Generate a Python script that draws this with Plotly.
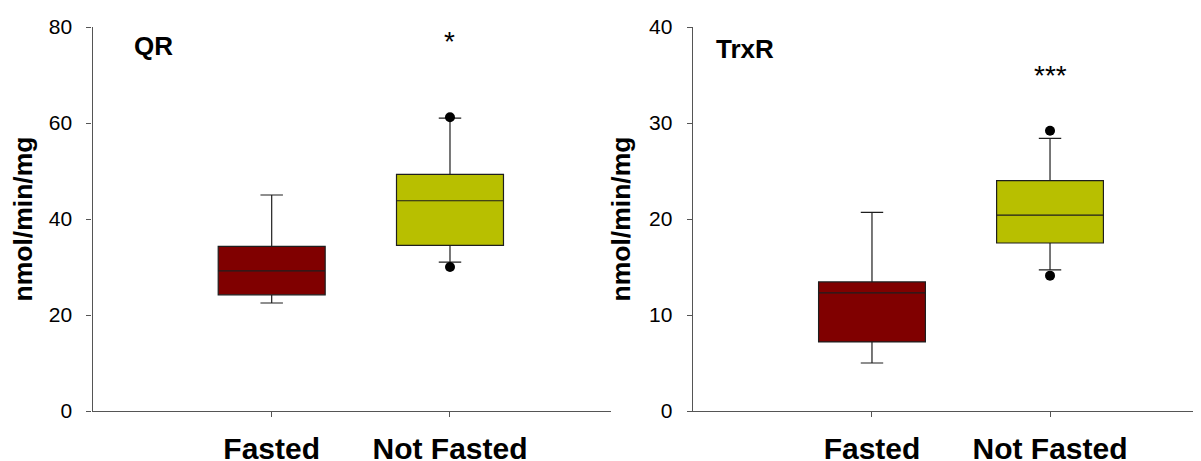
import plotly.graph_objects as go
from plotly.subplots import make_subplots

categories = ["Fasted", "Not Fasted"]
fill_colors = ["#800000", "#b8bf00"]

# QR panel stats
qr_lower = [22.5, 31.0]
qr_q1 = [24.2, 34.5]
qr_median = [29.2, 43.8]
qr_q3 = [34.3, 49.3]
qr_upper = [45.0, 61.0]
qr_out_x = ["Not Fasted", "Not Fasted"]
qr_out_y = [61.2, 30.0]

# TrxR panel stats
trx_lower = [5.0, 14.7]
trx_q1 = [7.2, 17.5]
trx_median = [12.3, 20.4]
trx_q3 = [13.45, 24.0]
trx_upper = [20.7, 28.4]
trx_out_x = ["Not Fasted", "Not Fasted"]
trx_out_y = [29.2, 14.1]

qr_ticks = [0, 20, 40, 60, 80]
trx_ticks = [0, 10, 20, 30, 40]

FONT = "Arial, Liberation Sans, sans-serif"
OFF = 8  # page body margin
W, H = 1201 - OFF, 461 - OFF

fig = make_subplots(rows=1, cols=2)

def add_panel(col, lower, q1, med, q3, upper, ox, oy):
    for i, cat in enumerate(categories):
        fig.add_trace(go.Box(
            x=[cat], q1=[q1[i]], median=[med[i]], q3=[q3[i]],
            lowerfence=[lower[i]], upperfence=[upper[i]],
            fillcolor=fill_colors[i], line=dict(color="#1e1e1e", width=1.2),
            width=0.6, whiskerwidth=0.21, boxpoints=False, showlegend=False,
            hoverinfo="skip"), row=1, col=col)
    fig.add_trace(go.Scatter(x=ox, y=oy, mode="markers",
                             marker=dict(color="black", size=10),
                             showlegend=False, hoverinfo="skip"), row=1, col=col)

add_panel(1, qr_lower, qr_q1, qr_median, qr_q3, qr_upper, qr_out_x, qr_out_y)
add_panel(2, trx_lower, trx_q1, trx_median, trx_q3, trx_upper, trx_out_x, trx_out_y)

xcommon = dict(type="category", categoryorder="array", categoryarray=categories,
               showline=True, linecolor="#555", linewidth=1.2,
               ticks="outside", ticklen=5, tickcolor="#555",
               tickfont=dict(family=FONT, size=30, color="black", weight="bold"),
               showgrid=False, zeroline=False, ticklabelstandoff=6, automargin=False)
ycommon = dict(showline=True, linecolor="#555", linewidth=1.2,
               ticks="outside", ticklen=5, tickcolor="#555",
               tickfont=dict(family=FONT, size=21, color="black"),
               showgrid=False, zeroline=False, ticklabelstandoff=10, automargin=False,
               title=dict(text="nmol/min/mg",
                          font=dict(family=FONT, size=26.5, color="black", weight="bold"),
                          standoff=10))

fig.update_xaxes(xcommon)
fig.update_yaxes(ycommon)
fig.update_xaxes(domain=[(92.5 - OFF) / W, (611 - OFF) / W], range=[-1.005, 1.903], row=1, col=1)
fig.update_xaxes(domain=[(692.7 - OFF) / W, 1.0], range=[-1.007, 1.848], row=1, col=2)
fig.update_yaxes(range=[0, 80], tickvals=qr_ticks, row=1, col=1)
fig.update_yaxes(range=[0, 40], tickvals=trx_ticks, row=1, col=2)

ann = []
ann.append(dict(text="QR", xref="x domain", yref="y domain", x=0.1167, y=0.9505,
                xanchor="center", yanchor="middle",
                showarrow=False, font=dict(family=FONT, size=26, color="black", weight="bold")))
ann.append(dict(text="TrxR", xref="x2 domain", yref="y2 domain", x=0.103, y=0.944,
                xanchor="center", yanchor="middle",
                showarrow=False, font=dict(family=FONT, size=26, color="black", weight="bold")))
ann.append(dict(text="*", xref="x", yref="y", x="Not Fasted", y=77, yanchor="middle",
                xanchor="center",
                showarrow=False, font=dict(family=FONT, size=28, color="black")))
ann.append(dict(text="***", xref="x2", yref="y2", x="Not Fasted", y=34.9, yanchor="middle",
                xanchor="center",
                showarrow=False, font=dict(family=FONT, size=28, color="black")))
fig.update_layout(annotations=ann)

fig.update_layout(width=W, height=H,
                  margin=dict(l=0, r=0, t=26.7 - OFF, b=461 - 411, autoexpand=False),
                  plot_bgcolor="white", paper_bgcolor="white", boxmode="overlay")

fig.write_html("out.html")
